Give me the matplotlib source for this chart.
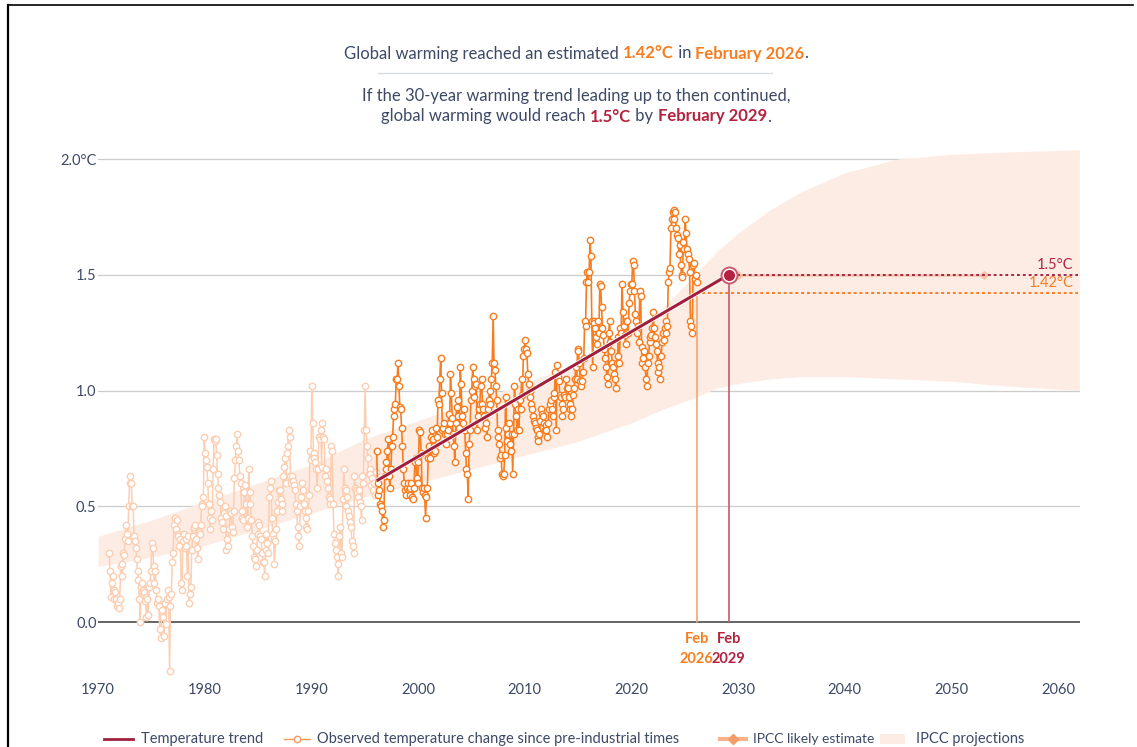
import matplotlib
matplotlib.use("Agg")
import matplotlib.pyplot as plt
import numpy as np
import pandas as pd
from matplotlib.lines import Line2D
from matplotlib.patches import Rectangle

plt.rcParams['font.family'] = ['Lato', 'DejaVu Sans']

# ---------------- data ----------------
obs_start = "1971-01"          # first monthly observation
window_start = "1996-02"       # start of the 30-year trend window
obs_1970s = [
    0.30, 0.22, 0.11, 0.17, 0.20, 0.14, 0.10, 0.13, 0.10, 0.07, 0.08, 0.06,
    0.10, 0.24, 0.25, 0.20, 0.30, 0.29, 0.36, 0.42, 0.38, 0.35, 0.50, 0.60,
    0.63, 0.60, 0.50, 0.50, 0.37, 0.35, 0.32, 0.27, 0.22, 0.18, 0.10, 0.00,
    0.15, 0.17, 0.14, 0.13, 0.09, 0.11, 0.02, 0.10, 0.03, 0.15, 0.17, 0.22,
    0.34, 0.32, 0.24, 0.17, 0.22, 0.14, 0.08, 0.10, 0.07, -0.03, -0.07, 0.02,
    0.05, 0.02, -0.06, 0.08, -0.01, 0.10, 0.14, 0.11, -0.21, 0.07, 0.12, 0.26,
    0.30, 0.42, 0.45, 0.40, 0.44, 0.38, 0.37, 0.33, 0.36, 0.17, 0.14, 0.35,
    0.38, 0.32, 0.36, 0.33, 0.20, 0.37, 0.08, 0.12, 0.15, 0.31, 0.37, 0.40,
    0.41, 0.42, 0.36, 0.32, 0.27, 0.39, 0.38, 0.42, 0.51, 0.50, 0.54, 0.80,
]
obs_1980s = [
    0.73, 0.70, 0.67, 0.60, 0.51, 0.45, 0.40, 0.48, 0.44, 0.66, 0.79, 0.78,
    0.79, 0.72, 0.64, 0.58, 0.55, 0.52, 0.45, 0.43, 0.40, 0.47, 0.50, 0.46,
    0.31, 0.36, 0.33, 0.40, 0.48, 0.47, 0.41, 0.39, 0.48, 0.62, 0.70, 0.76,
    0.81, 0.74, 0.70, 0.63, 0.60, 0.48, 0.45, 0.44, 0.56, 0.59, 0.51, 0.41,
    0.45, 0.66, 0.56, 0.51, 0.44, 0.37, 0.33, 0.28, 0.27, 0.24, 0.31, 0.38,
    0.43, 0.42, 0.37, 0.36, 0.30, 0.26, 0.26, 0.20, 0.31, 0.38, 0.34, 0.30,
    0.54, 0.58, 0.61, 0.45, 0.38, 0.36, 0.25, 0.35, 0.40, 0.48, 0.52, 0.57,
    0.57, 0.53, 0.48, 0.51, 0.63, 0.67, 0.71, 0.60, 0.73, 0.76, 0.83, 0.80,
    0.63, 0.60, 0.63, 0.61, 0.59, 0.57, 0.51, 0.48, 0.41, 0.37, 0.33, 0.50,
    0.54, 0.60, 0.57, 0.51, 0.48, 0.45, 0.41, 0.40, 0.48, 0.55, 0.74, 0.70,
]
obs_1990s = [
    1.02, 0.86, 0.73, 0.71, 0.69, 0.66, 0.58, 0.66, 0.80, 0.79, 0.83, 0.67,
    0.86, 0.80, 0.79, 0.63, 0.66, 0.61, 0.58, 0.54, 0.53, 0.51, 0.76, 0.74,
    0.51, 0.38, 0.34, 0.31, 0.28, 0.25, 0.20, 0.37, 0.41, 0.30, 0.28, 0.53,
    0.66, 0.58, 0.50, 0.57, 0.54, 0.48, 0.46, 0.43, 0.41, 0.35, 0.33, 0.30,
    0.63, 0.58, 0.57, 0.56, 0.54, 0.57, 0.52, 0.50, 0.44, 0.63, 0.60, 0.83,
    1.02, 0.83, 0.76, 0.71, 0.64, 0.66, 0.64, 0.59, 0.62, 0.57, 0.60, 0.55,
    0.65, 0.74, 0.60, 0.55, 0.57, 0.51, 0.50, 0.48, 0.41, 0.44, 0.63, 0.66,
    0.69, 0.74, 0.79, 0.63, 0.58, 0.66, 0.76, 0.80, 0.89, 0.92, 0.94, 1.05,
    1.05, 1.12, 1.02, 0.93, 0.92, 0.84, 0.76, 0.66, 0.60, 0.57, 0.55, 0.58,
    0.60, 0.57, 0.55, 0.58, 0.60, 0.54, 0.53, 0.58, 0.69, 0.71, 0.62, 0.60,
]
obs_2000s = [
    0.69, 0.83, 0.82, 0.73, 0.58, 0.56, 0.58, 0.55, 0.45, 0.54, 0.58, 0.71,
    0.76, 0.71, 0.80, 0.83, 0.79, 0.73, 0.76, 0.74, 0.84, 0.80, 0.96, 0.94,
    1.05, 1.14, 0.99, 0.83, 0.84, 0.86, 0.81, 0.77, 0.81, 0.83, 0.90, 0.86,
    1.07, 0.99, 0.88, 0.81, 0.76, 0.69, 0.86, 0.93, 0.89, 0.96, 0.84, 1.10,
    1.03, 0.89, 0.86, 0.92, 0.83, 0.73, 0.66, 0.64, 0.53, 0.77, 0.83, 0.96,
    1.00, 1.10, 1.05, 0.97, 1.02, 1.03, 0.83, 0.89, 0.92, 0.94, 1.02, 1.05,
    0.94, 0.92, 0.89, 0.84, 0.86, 0.80, 0.92, 0.96, 1.00, 0.94, 1.05, 1.12,
    1.32, 1.12, 1.09, 1.02, 0.96, 0.83, 0.80, 0.77, 0.71, 0.72, 0.64, 0.63,
    0.64, 0.72, 0.97, 0.84, 0.78, 0.81, 0.86, 0.77, 0.74, 0.81, 0.64, 0.81,
    1.02, 0.94, 0.89, 0.83, 0.92, 0.83, 0.96, 0.92, 1.05, 0.98, 1.15, 1.18,
]
obs_2010s = [
    1.22, 1.18, 1.16, 1.07, 1.03, 1.00, 0.97, 0.94, 0.92, 0.89, 0.87, 0.86,
    0.84, 0.83, 0.80, 0.78, 0.81, 0.87, 0.92, 0.90, 0.89, 0.86, 0.83, 0.85,
    0.83, 0.80, 0.86, 0.92, 0.94, 0.96, 0.92, 0.89, 0.97, 0.99, 1.08, 0.83,
    1.11, 1.06, 1.04, 0.98, 0.97, 0.94, 0.89, 0.92, 0.98, 0.97, 1.05, 1.01,
    1.01, 0.97, 0.94, 0.92, 0.89, 0.92, 0.98, 1.01, 1.05, 1.10, 1.05, 1.18,
    1.17, 1.12, 1.04, 1.02, 1.04, 1.08, 1.14, 1.30, 1.28, 1.47, 1.51, 1.47,
    1.51, 1.65, 1.58, 1.30, 1.10, 1.30, 1.29, 1.27, 1.23, 1.20, 1.30, 1.25,
    1.46, 1.45, 1.36, 1.27, 1.24, 1.18, 1.14, 1.10, 1.06, 1.03, 1.25, 1.30,
    1.21, 1.17, 1.12, 1.10, 1.07, 1.05, 1.01, 1.12, 1.15, 1.23, 1.12, 1.27,
    1.25, 1.46, 1.34, 1.28, 1.24, 1.20, 1.30, 1.30, 1.25, 1.38, 1.43, 1.46,
]
obs_2020s = [
    1.46, 1.56, 1.54, 1.43, 1.33, 1.30, 1.25, 1.28, 1.21, 1.43, 1.41, 1.19,
    1.12, 1.14, 1.17, 1.10, 1.05, 1.02, 1.12, 1.15, 1.21, 1.23, 1.24, 1.27,
    1.34, 1.27, 1.23, 1.20, 1.17, 1.12, 1.08, 1.10, 1.05, 1.15, 1.21, 1.25,
    1.22, 1.27, 1.30, 1.25, 1.28, 1.47, 1.51, 1.53, 1.70, 1.74, 1.77, 1.74,
    1.78, 1.77, 1.70, 1.67, 1.66, 1.59, 1.63, 1.54, 1.50, 1.49, 1.64, 1.61,
    1.74, 1.68, 1.61, 1.59, 1.57, 1.51, 1.30, 1.28, 1.25, 1.54, 1.55, 1.48,
    1.50, 1.47,
]

trend_years = [1996.125, 2029.125]
trend_values = [0.61, 1.50]
current_year = 2026.125
current_level = 1.42
target_level = 1.5
ipcc_likely_years = [2030.0, 2053.1]

band_years = [1970, 1975, 1980, 1985, 1990, 1995, 2000, 2005, 2010, 2015,
              2020, 2023, 2026, 2028, 2030, 2033, 2036, 2040, 2045, 2050,
              2055, 2062]
band_high = [0.37, 0.44, 0.52, 0.60, 0.68, 0.79, 0.87, 0.95, 1.03, 1.12,
             1.24, 1.36, 1.50, 1.60, 1.68, 1.78, 1.86, 1.94, 2.00, 2.02,
             2.03, 2.04]
band_low = [0.24, 0.28, 0.33, 0.40, 0.47, 0.54, 0.60, 0.66, 0.72, 0.78,
            0.86, 0.92, 0.97, 1.01, 1.03, 1.05, 1.06, 1.06, 1.05, 1.04,
            1.02, 1.00]

x_ticks = [1970, 1980, 1990, 2000, 2010, 2020, 2030, 2040, 2050, 2060]
y_ticks = [0.0, 0.5, 1.0, 1.5, 2.0]
y_tick_labels = ["0.0", "0.5", "1.0", "1.5", "2.0°C"]

# ---------------- styling ----------------
W, H = 1137, 747
TEXT = "#3d4966"
ORANGE = "#f77d20"
ORANGE_LIGHT = "#fcceb2"
RED = "#b3223f"
TREND = "#9f1f3d"
BAND = "#fdece4"
IPCC_LIKELY = "#f6b38a"

def fx(x):
    return x / W

def fy(y):
    return 1 - y / H

fig = plt.figure(figsize=(W / 100, H / 100), dpi=100)
fig.patch.set_facecolor("white")

ax_left, ax_right, ax_top, ax_bottom = 98, 1080, 145, 676
ax = fig.add_axes([fx(ax_left), fy(ax_bottom), (ax_right - ax_left) / W,
                   (ax_bottom - ax_top) / H])
ax.set_xlim(1970, 1970 + (ax_right - ax_left) / 10.667)
ax.set_ylim(-(ax_bottom - 622) / 231.5, 2.0 + (159 - ax_top) / 231.5)
for s in ax.spines.values():
    s.set_visible(False)

# grid
for v in y_ticks:
    if v == 0:
        ax.axhline(v, color="#3a3a3a", lw=1.1, zorder=2)
    else:
        ax.axhline(v, color="#cccccc", lw=0.9, zorder=1)

ax.set_yticks(y_ticks)
ax.set_yticklabels(y_tick_labels)
ax.set_xticks(x_ticks)
ax.set_xticklabels([str(t) for t in x_ticks])
ax.tick_params(axis="y", length=0, pad=1, labelsize=10.5, labelcolor=TEXT)
ax.tick_params(axis="x", length=0, pad=5, labelsize=10.5, labelcolor=TEXT)

# IPCC projections band
ax.fill_between(band_years, band_low, band_high, color=BAND, lw=0, zorder=1.5)

# observations
obs_values = obs_1970s + obs_1980s + obs_1990s + obs_2000s + obs_2010s + obs_2020s
dates = pd.date_range(obs_start, periods=len(obs_values), freq="MS")
obs_x = np.array(dates.year + (dates.month - 0.5) / 12.0)
obs_y = np.array(obs_values)
split = int(np.searchsorted(dates, pd.Timestamp(window_start)))

ax.plot(obs_x[:split + 1], obs_y[:split + 1], color=ORANGE_LIGHT, lw=1.1,
        marker="o", ms=4.6, mfc="white", mec=ORANGE_LIGHT, mew=1.0, zorder=3)
ax.plot(obs_x[split:], obs_y[split:], color=ORANGE, lw=1.2,
        marker="o", ms=4.6, mfc="white", mec=ORANGE, mew=1.0, zorder=4)

# vertical markers
ax.plot([current_year, current_year], [0, current_level], color="#f9a36a",
        lw=1.2, zorder=3.5)
ax.plot([trend_years[1], trend_years[1]], [0, target_level], color="#c45a70",
        lw=1.2, zorder=3.5)

# IPCC likely estimate
ax.plot(ipcc_likely_years, [target_level] * 2, color=IPCC_LIKELY, lw=2.0,
        alpha=0.55, marker="D", ms=4, zorder=4.5)

# dotted lines
xmax = ax.get_xlim()[1]
ax.plot([trend_years[1] + 0.8, xmax - 0.2], [target_level] * 2, color="#a3264a",
        lw=1.4, ls=(0, (1.5, 1.5)), zorder=5)
ax.plot([current_year + 0.5, xmax - 0.2], [current_level] * 2, color=ORANGE,
        lw=1.4, ls=(0, (1.5, 1.5)), zorder=5)

# trend line
ax.plot(trend_years, trend_values, color="white", lw=3.4, zorder=5.5,
        solid_capstyle="butt")
ax.plot(trend_years, trend_values, color=TREND, lw=2.2, zorder=6,
        solid_capstyle="butt")
ax.plot([trend_years[1]], [trend_values[1]], marker="o", ms=11.5, mfc="white",
        mec="#c65a72", mew=1.4, zorder=7)
ax.plot([trend_years[1]], [trend_values[1]], marker="o", ms=7, mfc=RED,
        mec=RED, zorder=8)

# right labels
ax.text(xmax - 0.6, target_level + 0.01, "1.5°C", color=RED, fontsize=10.5,
        ha="right", va="bottom", zorder=9)
ax.text(xmax - 0.6, current_level + 0.012, "1.42°C", color=ORANGE,
        fontsize=10.5, ha="right", va="bottom", zorder=9)

# Feb labels below axis
for xv, col, yr in [(current_year, ORANGE, "2026"), (trend_years[1], RED, "2029")]:
    ax.text(xv, -0.045, "Feb", color=col, fontsize=10.5, fontweight="bold",
            ha="center", va="top", zorder=9)
    ax.text(xv, -0.13, yr, color=col, fontsize=10.5, fontweight="bold",
            ha="center", va="top", zorder=9)

# ---------------- title (rich text) ----------------
renderer = fig.canvas.get_renderer()

def measure(s, size, weight):
    t1 = fig.text(0, 0, "|" + s + "|", fontsize=size, fontweight=weight)
    t2 = fig.text(0, 0, "||", fontsize=size, fontweight=weight)
    w = t1.get_window_extent(renderer).width - t2.get_window_extent(renderer).width
    t1.remove()
    t2.remove()
    return w

def rich_line(pieces, cx, baseline, size=12):
    widths = [measure(s, size, w) for s, c, w in pieces]
    x = cx - sum(widths) / 2
    for (s, c, w), wd in zip(pieces, widths):
        fig.text(fx(x), fy(baseline), s, color=c, fontsize=size, fontweight=w,
                 ha="left", va="baseline")
        x += wd

rich_line([("Global warming reached an estimated ", TEXT, "normal"),
           ("1.42°C", ORANGE, "bold"), (" in ", TEXT, "normal"),
           ("February 2026", ORANGE, "bold"), (".", TEXT, "normal")], 576, 58.5)
fig.add_artist(Line2D([fx(378), fx(772)], [fy(73), fy(73)], color="#d9dde3",
                      lw=1.0))
rich_line([("If the 30-year warming trend leading up to then continued,", TEXT,
            "normal")], 576, 100.5)
rich_line([("global warming would reach ", TEXT, "normal"),
           ("1.5°C", RED, "bold"), (" by ", TEXT, "normal"),
           ("February 2029", RED, "bold"), (".", TEXT, "normal")], 576, 121.5)

# ---------------- legend (manual) ----------------
ly = 739
LFS = 10.5
fig.add_artist(Line2D([fx(104), fx(133)], [fy(ly), fy(ly)], color=TREND, lw=2.0))
fig.text(fx(141), fy(ly + 4), "Temperature trend", color=TEXT, fontsize=LFS,
         va="baseline")
fig.add_artist(Line2D([fx(284), fx(310)], [fy(ly), fy(ly)], color="#f99a5a",
                      lw=1.0))
fig.add_artist(Line2D([fx(297)], [fy(ly)], marker="o", ms=4.6, mfc="white",
                      mec="#f99a5a", mew=1.0))
fig.text(fx(317), fy(ly + 4), "Observed temperature change since pre-industrial times",
         color=TEXT, fontsize=LFS, va="baseline")
fig.add_artist(Line2D([fx(720), fx(746)], [fy(ly), fy(ly)], color=IPCC_LIKELY,
                      lw=3.0))
fig.add_artist(Line2D([fx(733)], [fy(ly)], marker="D", ms=5, mfc="#f49b68",
                      mec="#f49b68"))
fig.text(fx(753), fy(ly + 4), "IPCC likely estimate", color=TEXT, fontsize=10,
         va="baseline")
fig.add_artist(Rectangle((fx(880), fy(ly + 5)), (905 - 880) / W, 10 / H,
                         transform=fig.transFigure, color=BAND, lw=0))
fig.text(fx(916), fy(ly + 4), "IPCC projections", color=TEXT, fontsize=LFS,
         va="baseline")

# frame lines of the screenshot
fig.add_artist(Line2D([fx(8), fx(1133)], [fy(5), fy(5)], color="black", lw=1.2))
fig.add_artist(Line2D([fx(8), fx(8)], [fy(5), fy(747)], color="black", lw=1.6))

fig.savefig("out.png", dpi=100)
